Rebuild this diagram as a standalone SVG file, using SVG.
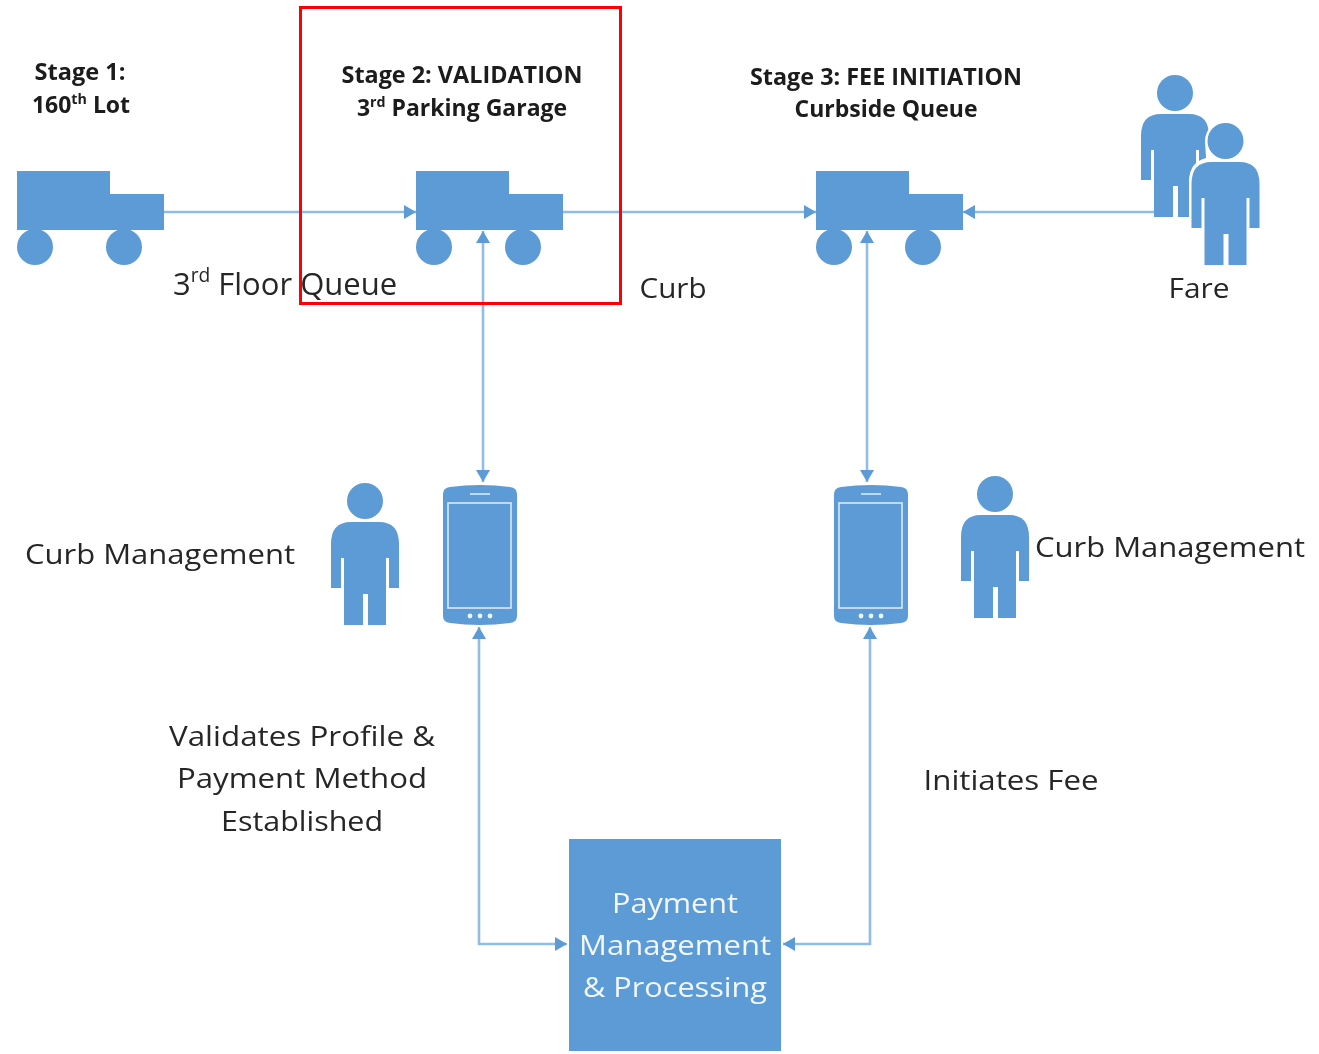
<svg xmlns="http://www.w3.org/2000/svg" width="1319" height="1054" viewBox="0 0 1319 1054">
<style>
.s{fill:#5b9bd5}
.t{font-family:"Open Sans","Liberation Sans",sans-serif;font-size:28px;fill:#262626;text-anchor:middle}
.b{font-family:"Open Sans","Liberation Sans",sans-serif;font-size:23px;font-weight:700;fill:#1a1a1a;text-anchor:middle}
.w{font-family:"Open Sans","Liberation Sans",sans-serif;font-size:28px;fill:#f2f7fc;text-anchor:middle}
.l{fill:none;stroke:#8fbde8;stroke-width:2.6}
.sup{font-size:.62em}
</style>
<defs>
<filter id="soft" x="0" y="0" width="100%" height="100%" filterUnits="userSpaceOnUse"><feGaussianBlur stdDeviation="0.55"/></filter>
<marker id="a" viewBox="0 0 12 14" refX="12" refY="7" markerUnits="userSpaceOnUse" markerWidth="12" markerHeight="14" orient="auto-start-reverse"><path d="M0 0L12 7L0 14Z" fill="#5b9bd5"/></marker>
<g id="truck" class="s"><path d="M0 0H93V23H147V59H0Z"/><circle cx="18" cy="76" r="18"/><circle cx="107" cy="76" r="18"/></g>
<g id="person"><circle cx="0" cy="0" r="18" class="s"/><path class="s" d="M-34 43Q-34 21-14 21H14Q34 21 34 43V87H24V57H21V124H3V93H-2V124H-21V57H-24V87H-34Z"/></g>
<g id="phone"><path class="s" d="M0 10Q0 4 7 3Q37-1 67 3Q74 4 74 10V132Q74 138 67 139Q37 143 7 139Q0 138 0 132Z"/><rect x="5" y="19" width="63" height="105" fill="none" stroke="#dbe9f7" stroke-width="1.6"/><path d="M27 10H47" stroke="#dbe9f7" stroke-width="1.6"/><g fill="#eef5fb"><circle cx="27" cy="132" r="2.4"/><circle cx="37" cy="132" r="2.4"/><circle cx="47" cy="132" r="2.4"/></g></g>
</defs>
<g filter="url(#soft)">
<g id="connectors">
<path class="l" d="M164 212H416" marker-end="url(#a)"/>
<path class="l" d="M563 212H816" marker-end="url(#a)"/>
<path class="l" d="M1155 212H963" marker-end="url(#a)"/>
<path class="l" d="M483 231V482" marker-start="url(#a)" marker-end="url(#a)"/>
<path class="l" d="M867 231V482" marker-start="url(#a)" marker-end="url(#a)"/>
<path class="l" d="M479 627V944H567" marker-start="url(#a)" marker-end="url(#a)"/>
<path class="l" d="M870 627V944H783" marker-start="url(#a)" marker-end="url(#a)"/>
</g>
<g id="truck1"><use href="#truck" x="17" y="171"/></g>
<g id="truck2"><use href="#truck" x="416" y="171"/></g>
<g id="truck3"><use href="#truck" x="816" y="171"/></g>
<g id="fare-person1"><use href="#person" x="1175" y="93"/></g>
<g id="fare-person2"><path d="M1225 121a20 20 0 0 1 20 20l-1 17q16 4 17 22V230H1189V180q1-18 17-22l-1-17a20 20 0 0 1 20-20Z" fill="#fff"/><use href="#person" x="1225.500" y="141"/></g>
<g id="curb-person1"><use href="#person" x="365" y="501"/></g>
<g id="curb-person2"><use href="#person" x="995" y="494"/></g>
<g id="phone1"><use href="#phone" x="443" y="484"/></g>
<g id="phone2"><use href="#phone" x="834" y="484"/></g>
<g id="payment"><rect class="s" x="569" y="839" width="212" height="212"/>
<text class="w" x="675" y="913" textLength="126" lengthAdjust="spacingAndGlyphs">Payment</text><text class="w" x="675" y="955" textLength="192" lengthAdjust="spacingAndGlyphs">Management</text><text class="w" x="675" y="997" textLength="184" lengthAdjust="spacingAndGlyphs">&amp; Processing</text></g>
<g id="labels">
<rect x="300.500" y="7.500" width="320" height="296" fill="none" stroke="#f00" stroke-width="3"/>
<text class="b" x="80" y="80" textLength="91" lengthAdjust="spacingAndGlyphs">Stage 1:</text>
<text class="b" x="81" y="113" font-size="23">160<tspan class="sup" dy="-9">th</tspan><tspan dy="9"> Lot</tspan></text>
<text class="b" x="462" y="83" textLength="241" lengthAdjust="spacingAndGlyphs">Stage 2: VALIDATION</text>
<text class="b" x="462" y="116">3<tspan class="sup" dy="-9">rd</tspan><tspan dy="9"> Parking Garage</tspan></text>
<text class="b" x="886" y="85" textLength="272" lengthAdjust="spacingAndGlyphs">Stage 3: FEE INITIATION</text>
<text class="b" x="886" y="117" textLength="183" lengthAdjust="spacingAndGlyphs">Curbside Queue</text>
<text class="t" x="285" y="295" style="font-size:31px">3<tspan class="sup" dy="-13">rd</tspan><tspan dy="13"> Floor Queue</tspan></text>
<text class="t" x="673" y="298" textLength="67" lengthAdjust="spacingAndGlyphs">Curb</text>
<text class="t" x="1199" y="298" textLength="61" lengthAdjust="spacingAndGlyphs">Fare</text>
<text class="t" x="160" y="564" textLength="270" lengthAdjust="spacingAndGlyphs">Curb Management</text>
<text class="t" x="1170" y="557" textLength="270" lengthAdjust="spacingAndGlyphs">Curb Management</text>
<text class="t" x="302" y="746" textLength="266" lengthAdjust="spacingAndGlyphs">Validates Profile &amp;</text>
<text class="t" x="302" y="788" textLength="250" lengthAdjust="spacingAndGlyphs">Payment Method</text>
<text class="t" x="302" y="831" textLength="162" lengthAdjust="spacingAndGlyphs">Established</text>
<text class="t" x="1011" y="790" textLength="175" lengthAdjust="spacingAndGlyphs">Initiates Fee</text>
</g>
</g>
</svg>
